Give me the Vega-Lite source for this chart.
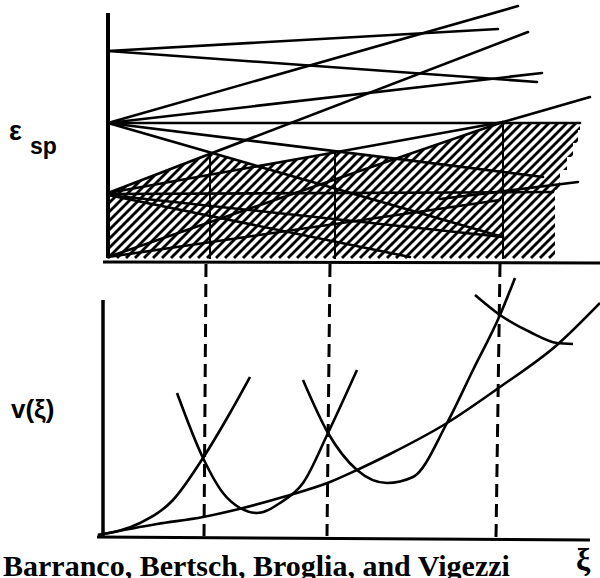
{
  "$schema": "https://vega.github.io/schema/vega-lite/v6.json",
  "width": 600,
  "height": 578,
  "padding": 0,
  "autosize": {"type": "none"},
  "background": "white",
  "config": {"view": {"stroke": null}},
  "datasets": {
    "hatch": [
      {"a":-27,"b":108},{"a":-18,"b":117},{"a":-9,"b":126},{"a":0,"b":135},{"a":9,"b":144},{"a":18,"b":153},{"a":27,"b":162},{"a":36,"b":171},{"a":45,"b":180},{"a":54,"b":189},{"a":63,"b":198},{"a":72,"b":207},{"a":81,"b":216},{"a":90,"b":225},{"a":99,"b":234},{"a":108,"b":243},{"a":117,"b":252},{"a":126,"b":261},{"a":135,"b":270},{"a":144,"b":279},{"a":153,"b":288},{"a":162,"b":297},{"a":171,"b":306},{"a":180,"b":315},{"a":189,"b":324},{"a":198,"b":333},{"a":207,"b":342},{"a":216,"b":351},{"a":225,"b":360},{"a":234,"b":369},{"a":243,"b":378},{"a":252,"b":387},{"a":261,"b":396},{"a":270,"b":405},{"a":279,"b":414},{"a":288,"b":423},{"a":297,"b":432},{"a":306,"b":441},{"a":315,"b":450},{"a":324,"b":459},{"a":333,"b":468},{"a":342,"b":477},{"a":351,"b":486},{"a":360,"b":495},{"a":369,"b":504},{"a":378,"b":513},{"a":387,"b":522},{"a":396,"b":531},{"a":405,"b":540},{"a":414,"b":549},{"a":423,"b":558},{"a":432,"b":567},{"a":441,"b":576},{"a":450,"b":585},{"a":459,"b":594},{"a":468,"b":603},{"a":477,"b":612},{"a":486,"b":621},{"a":495,"b":630},{"a":504,"b":639},{"a":513,"b":648},{"a":522,"b":657},{"a":531,"b":666},{"a":540,"b":675},{"a":549,"b":684},{"a":558,"b":693},{"a":567,"b":702},{"a":576,"b":711}
    ],
    "masktop": [
      {"x":100,"top":100,"bot":193},
      {"x":108,"top":100,"bot":193},
      {"x":210,"top":100,"bot":154},
      {"x":257,"top":100,"bot":166},
      {"x":337,"top":100,"bot":152},
      {"x":395,"top":100,"bot":159},
      {"x":503,"top":100,"bot":122},
      {"x":600,"top":100,"bot":123}
    ],
    "maskrect": [
      {"x":0,"x2":107,"y":100,"y2":262},
      {"x":580,"x2":600,"y":100,"y2":130},
      {"x":578,"x2":600,"y":130,"y2":143},
      {"x":573,"x2":600,"y":143,"y2":157},
      {"x":567,"x2":600,"y":157,"y2":170},
      {"x":560,"x2":600,"y":170,"y2":190},
      {"x":555,"x2":600,"y":190,"y2":262},
      {"x":100,"x2":600,"y":259,"y2":262}
    ],
    "segs": [
      {"x":108,"y":51,"x2":498,"y2":29},
      {"x":108,"y":51,"x2":537,"y2":82},
      {"x":108,"y":123,"x2":518,"y2":6},
      {"x":108,"y":123,"x2":542,"y2":73},
      {"x":108,"y":193,"x2":528,"y2":32},
      {"x":108,"y":123,"x2":543,"y2":177},
      {"x":108,"y":123,"x2":580,"y2":123},
      {"x":108,"y":123,"x2":503,"y2":237},
      {"x":108,"y":193,"x2":337,"y2":152},
      {"x":337,"y":152,"x2":503,"y2":122},
      {"x":503,"y":122,"x2":590,"y2":97},
      {"x":108,"y":257,"x2":503,"y2":122},
      {"x":108,"y":194,"x2":553,"y2":192},
      {"x":440,"y":199,"x2":578,"y2":182},
      {"x":108,"y":195,"x2":410,"y2":257},
      {"x":108,"y":195,"x2":503,"y2":237},
      {"x":108,"y":257,"x2":500,"y2":200}
    ],
    "axes": [
      {"x":108,"y":13,"x2":108,"y2":258,"w":4},
      {"x":103,"y":262,"x2":600,"y2":263,"w":3},
      {"x":103,"y":300,"x2":103,"y2":536,"w":3.5},
      {"x":97,"y":537,"x2":590,"y2":540,"w":3},
      {"x":210,"y":154,"x2":210,"y2":259,"w":2},
      {"x":335,"y":152,"x2":335,"y2":259,"w":2},
      {"x":503,"y":122,"x2":503,"y2":259,"w":2}
    ],
    "dashes": [
      {"x":206,"y":264,"x2":204,"y2":536},
      {"x":330,"y":264,"x2":327,"y2":536},
      {"x":500,"y":264,"x2":496,"y2":538}
    ],
    "curves": [
      {"c":"A","x":98,"y":535},{"c":"A","x":157,"y":524},{"c":"A","x":203,"y":517},{"c":"A","x":243,"y":508},{"c":"A","x":283,"y":497},{"c":"A","x":330,"y":482},{"c":"A","x":357,"y":470},{"c":"A","x":390,"y":454},{"c":"A","x":447,"y":423},{"c":"A","x":500,"y":387},{"c":"A","x":557,"y":345},{"c":"A","x":600,"y":303},
      {"c":"B","x":98,"y":535},{"c":"B","x":140,"y":523},{"c":"B","x":173,"y":500},{"c":"B","x":203,"y":458},{"c":"B","x":230,"y":413},{"c":"B","x":250,"y":377},
      {"c":"C","x":177,"y":393},{"c":"C","x":203,"y":458},{"c":"C","x":223,"y":493},{"c":"C","x":240,"y":508},{"c":"C","x":257,"y":513},{"c":"C","x":280,"y":503},{"c":"C","x":303,"y":483},{"c":"C","x":328,"y":433},{"c":"C","x":357,"y":370},
      {"c":"D","x":303,"y":380},{"c":"D","x":328,"y":433},{"c":"D","x":357,"y":470},{"c":"D","x":387,"y":483},{"c":"D","x":413,"y":477},{"c":"D","x":447,"y":423},{"c":"D","x":473,"y":370},{"c":"D","x":500,"y":315},{"c":"D","x":515,"y":278},
      {"c":"E","x":475,"y":295},{"c":"E","x":500,"y":315},{"c":"E","x":530,"y":332},{"c":"E","x":557,"y":343},{"c":"E","x":573,"y":344}
    ],
    "sanslabels": [
      {"t":"ε","x":9,"y":140,"s":27},
      {"t":"sp","x":30,"y":154,"s":23},
      {"t":"v(ξ)","x":11,"y":418,"s":26}
    ],
    "seriflabels": [
      {"t":"ξ","x":576,"y":570,"s":32},
      {"t":"Barranco, Bertsch, Broglia, and Vigezzi","x":3,"y":576,"s":30}
    ]
  },
  "layer": [
    {
      "data": {"name": "hatch"},
      "mark": {"type": "rule", "color": "black", "strokeWidth": 2.8, "clip": true},
      "encoding": {
        "x": {"field": "a", "type": "quantitative", "scale": {"domain": [0, 600], "nice": false, "zero": false}, "axis": null},
        "x2": {"field": "b"},
        "y": {"datum": 258, "type": "quantitative", "scale": {"domain": [0, 578], "reverse": true, "nice": false, "zero": false}, "axis": null},
        "y2": {"datum": 123}
      }
    },
    {
      "data": {"name": "masktop"},
      "mark": {"type": "area", "color": "white", "opacity": 1},
      "encoding": {
        "x": {"field": "x", "type": "quantitative"},
        "y": {"field": "top", "type": "quantitative"},
        "y2": {"field": "bot"}
      }
    },
    {
      "data": {"name": "maskrect"},
      "mark": {"type": "rect", "color": "white", "opacity": 1},
      "encoding": {
        "x": {"field": "x", "type": "quantitative"},
        "x2": {"field": "x2"},
        "y": {"field": "y", "type": "quantitative"},
        "y2": {"field": "y2"}
      }
    },
    {
      "data": {"name": "segs"},
      "mark": {"type": "rule", "color": "black", "strokeWidth": 2.6, "strokeCap": "round"},
      "encoding": {
        "x": {"field": "x", "type": "quantitative"},
        "x2": {"field": "x2"},
        "y": {"field": "y", "type": "quantitative"},
        "y2": {"field": "y2"}
      }
    },
    {
      "data": {"name": "axes"},
      "mark": {"type": "rule", "color": "black", "strokeCap": "butt"},
      "encoding": {
        "x": {"field": "x", "type": "quantitative"},
        "x2": {"field": "x2"},
        "y": {"field": "y", "type": "quantitative"},
        "y2": {"field": "y2"},
        "strokeWidth": {"field": "w", "type": "quantitative", "scale": null}
      }
    },
    {
      "data": {"name": "dashes"},
      "mark": {"type": "rule", "color": "black", "strokeWidth": 3, "strokeDash": [13, 7]},
      "encoding": {
        "x": {"field": "x", "type": "quantitative"},
        "x2": {"field": "x2"},
        "y": {"field": "y", "type": "quantitative"},
        "y2": {"field": "y2"}
      }
    },
    {
      "data": {"name": "curves"},
      "mark": {"type": "line", "color": "black", "strokeWidth": 2.6, "interpolate": "monotone"},
      "encoding": {
        "x": {"field": "x", "type": "quantitative"},
        "y": {"field": "y", "type": "quantitative"},
        "detail": {"field": "c", "type": "nominal"}
      }
    },
    {
      "data": {"name": "sanslabels"},
      "mark": {"type": "text", "align": "left", "baseline": "alphabetic", "fontWeight": "bold", "color": "black", "font": "Liberation Sans"},
      "encoding": {
        "x": {"field": "x", "type": "quantitative"},
        "y": {"field": "y", "type": "quantitative"},
        "text": {"field": "t"},
        "size": {"field": "s", "type": "quantitative", "scale": null}
      }
    },
    {
      "data": {"name": "seriflabels"},
      "mark": {"type": "text", "align": "left", "baseline": "alphabetic", "fontWeight": "bold", "color": "black", "font": "Liberation Serif"},
      "encoding": {
        "x": {"field": "x", "type": "quantitative"},
        "y": {"field": "y", "type": "quantitative"},
        "text": {"field": "t"},
        "size": {"field": "s", "type": "quantitative", "scale": null}
      }
    }
  ]
}
